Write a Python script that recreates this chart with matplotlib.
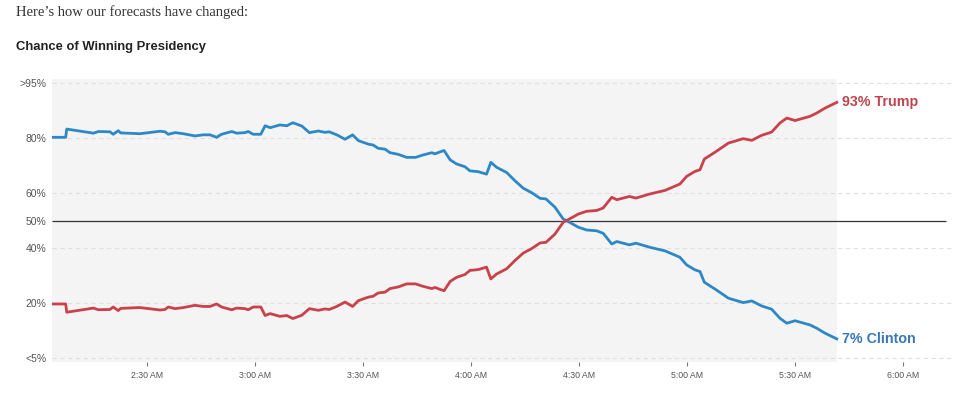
import matplotlib
matplotlib.use("Agg")
import matplotlib.pyplot as plt

# minutes after 2:00 AM
minutes = [3.7, 7.5, 7.8, 15.2, 16.6, 19.8, 20.7, 22.1, 22.8, 28.1, 33.7, 35.1, 36.0, 37.9,
           40.2, 43.4, 45.7, 47.6, 49.4, 50.8, 53.6, 55.0, 57.3, 58.2, 59.6, 61.7, 62.9, 64.3,
           67.0, 68.9, 70.6, 73.1, 75.2, 77.7, 79.5, 80.7, 82.8, 85.1, 87.2, 88.8, 91.6, 92.9,
           94.3, 96.2, 97.6, 99.9, 102.2, 104.7, 106.8, 109.2, 110.1, 111.3, 112.6, 114.3, 116.1,
           118.4, 119.8, 122.1, 124.4, 125.6, 127.2, 130.0, 132.3, 134.6, 136.9, 139.3, 140.9,
           143.4, 145.7, 147.6, 149.9, 152.2, 155.0, 156.8, 159.2, 160.6, 164.1, 165.9, 169.8,
           174.0, 178.1, 180.0, 182.3, 183.7, 184.9, 187.9, 191.6, 195.7, 198.1, 200.8, 203.6,
           205.9, 207.8, 210.1, 214.2, 216.1, 218.4, 221.7]

clinton = [80.3, 80.3, 83.3, 81.8, 82.4, 82.3, 81.4, 82.7, 81.9, 81.6, 82.5, 82.3, 81.4, 82.0,
           81.6, 80.8, 81.2, 81.2, 80.3, 81.4, 82.4, 81.8, 82.0, 82.4, 81.4, 81.4, 84.5, 83.8,
           84.8, 84.5, 85.6, 84.4, 82.0, 82.6, 82.1, 82.3, 81.2, 79.6, 81.2, 79.1, 77.8, 77.5,
           76.3, 76.0, 74.7, 74.1, 73.0, 73.0, 73.9, 74.7, 74.3, 74.9, 75.5, 72.1, 70.6,
           69.6, 68.1, 67.8, 66.9, 71.2, 69.4, 67.5, 64.5, 61.8, 60.2, 58.1, 57.9,
           54.9, 50.6, 49.3, 47.6, 46.6, 46.3, 45.4, 41.5, 42.4, 41.2, 41.8, 40.3,
           39.0, 36.7, 33.9, 32.1, 31.5, 27.6, 25.1, 21.8, 20.2, 20.8, 19.0, 17.8,
           14.5, 12.7, 13.6, 12.1, 10.9, 9.1, 7.0]

trump = [19.7, 19.7, 16.7, 18.2, 17.6, 17.7, 18.6, 17.3, 18.1, 18.4, 17.5, 17.7, 18.6, 18.0,
         18.4, 19.2, 18.8, 18.8, 19.7, 18.6, 17.6, 18.2, 18.0, 17.6, 18.6, 18.6, 15.5, 16.2,
         15.2, 15.5, 14.4, 15.6, 18.0, 17.4, 17.9, 17.7, 18.8, 20.4, 18.8, 20.9, 22.2, 22.5,
         23.7, 24.0, 25.3, 25.9, 27.0, 27.0, 26.1, 25.3, 25.7, 25.1, 24.5, 27.9, 29.4,
         30.4, 31.9, 32.2, 33.1, 28.8, 30.6, 32.5, 35.5, 38.2, 39.8, 41.9, 42.1,
         45.1, 49.4, 50.7, 52.4, 53.4, 53.7, 54.6, 58.5, 57.6, 58.8, 58.2, 59.7,
         61.0, 63.3, 66.1, 67.9, 68.5, 72.4, 74.9, 78.2, 79.8, 79.2, 81.0, 82.2,
         85.5, 87.3, 86.4, 87.9, 89.1, 90.9, 93.0]

x_ticks = [30, 60, 90, 120, 150, 180, 210, 240]
x_labels = ["2:30 AM", "3:00 AM", "3:30 AM", "4:00 AM", "4:30 AM", "5:00 AM", "5:30 AM", "6:00 AM"]
y_ticks = [0, 20, 40, 50, 60, 80, 100]
y_labels = ["<5%", "20%", "40%", "50%", "60%", "80%", ">95%"]

BLUE = "#2d88c6"
RED = "#c9414a"
BLUE_TXT = "#3a78b5"
RED_TXT = "#be4550"

fig = plt.figure(figsize=(9.8, 3.99), dpi=100)
ax = fig.add_axes([52 / 980, 37 / 399, 900 / 980, 283 / 399])
ax.set_facecolor("white")
for s in ax.spines.values():
    s.set_visible(False)

ax.set_xlim(3.7, 253.7)
ax.set_ylim(-1.4, 101.5)

# shaded data region
ax.axvspan(minutes[0], minutes[-1], color="#f4f4f4", zorder=0, lw=0)

for g in [0, 20, 40, 60, 80, 100]:
    ax.axhline(g, color="#e0e0e0", lw=0.8, ls=(0, (4, 3)), zorder=1)
ax.hlines(50, minutes[0], 252, color="#333333", lw=0.9, zorder=2)

ax.plot(minutes, clinton, color=BLUE, lw=2.0, zorder=3, solid_joinstyle="round")
ax.plot(minutes, trump, color=RED, lw=2.0, zorder=3, solid_joinstyle="round")

ax.set_xticks(x_ticks)
ax.set_xticklabels(x_labels, fontsize=6.3, color="#555555", family="Liberation Sans")
ax.tick_params(axis="x", length=3, width=0.8, color="#777777", pad=3.5)
ax.set_yticks(y_ticks)
ax.set_yticklabels(y_labels, fontsize=7.5, color="#555555", family="Liberation Sans")
ax.tick_params(axis="y", length=0, pad=4)

ax.annotate(f"{trump[-1]:.0f}% Trump", xy=(minutes[-1], trump[-1]), xytext=(4, 0),
            textcoords="offset points", ha="left", va="center", fontsize=10.3,
            fontweight="bold", color=RED_TXT, family="Liberation Sans")
ax.annotate(f"{clinton[-1]:.0f}% Clinton", xy=(minutes[-1], clinton[-1]), xytext=(4, 0),
            textcoords="offset points", ha="left", va="center", fontsize=10.3,
            fontweight="bold", color=BLUE_TXT, family="Liberation Sans")

fig.text(16 / 980, 1 - 12.5 / 399, "Here\u2019s how our forecasts have changed:", ha="left",
         va="center", fontsize=10.5, color="#333333", family="Liberation Serif")
fig.text(16 / 980, 1 - 47 / 399, "Chance of Winning Presidency", ha="left", va="center",
         fontsize=9.4, fontweight="bold", color="#222222", family="Liberation Sans")

fig.savefig("out.png", dpi=100)
